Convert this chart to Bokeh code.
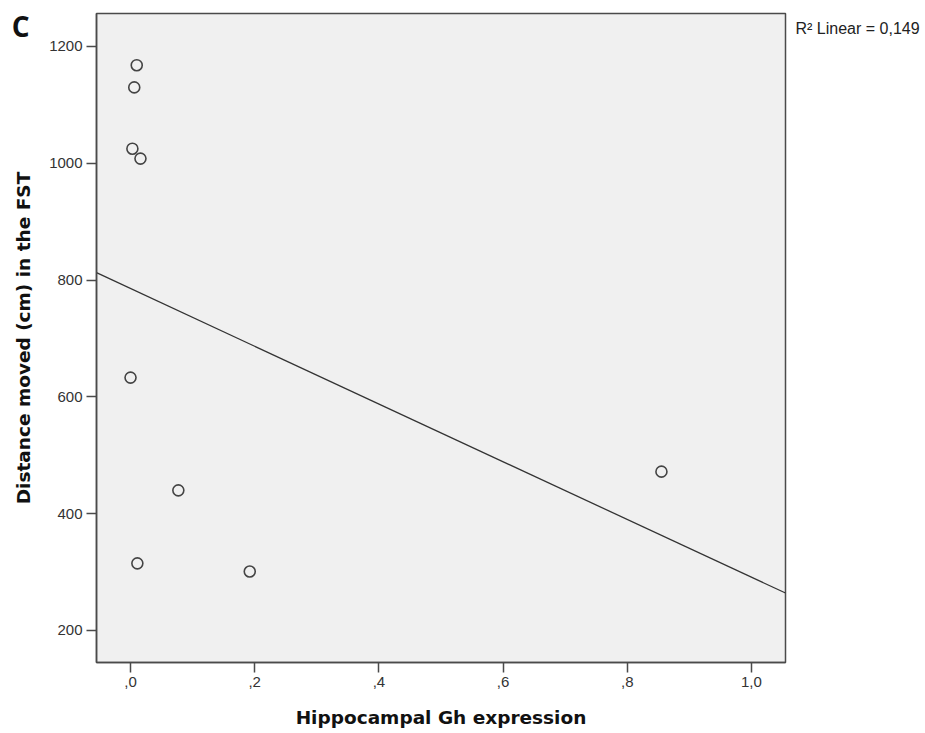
import numpy as np
from bokeh.plotting import figure
from bokeh.models import Range1d, FixedTicker, LinearAxis
from bokeh.embed import file_html
from bokeh.resources import INLINE

# Data
gh_expression = [0.010, 0.006, 0.003, 0.016, 0.000, 0.077, 0.011, 0.192, 0.855]
distance_moved = [1168, 1130, 1025, 1008, 633, 440, 315, 301, 472]

x_ticks = [0.0, 0.2, 0.4, 0.6, 0.8, 1.0]
x_tick_labels = [",0", ",2", ",4", ",6", ",8", "1,0"]
y_ticks = [200, 400, 600, 800, 1000, 1200]
y_tick_labels = ["200", "400", "600", "800", "1000", "1200"]

r2_text = "R\u00b2 Linear = 0,149"
panel_letter = "C"

x0, x1 = -0.0548, 1.0548
y0, y1 = 145.2, 1256.5

p = figure(width=925, height=733, output_backend="svg", toolbar_location=None,
           x_range=Range1d(x0, x1), y_range=Range1d(y0, y1),
           min_border_left=96, min_border_right=140, min_border_top=13, min_border_bottom=71)

p.background_fill_color = "#f0f0f0"
p.border_fill_color = "white"
p.outline_line_color = "#4a4a4a"
p.outline_line_width = 1.5
p.grid.visible = False

# regression fit
slope, intercept = np.polyfit(gh_expression, distance_moved, 1)
xs = [x0, x1]
ys = [intercept + slope * x for x in xs]
p.line(xs, ys, line_color="#333333", line_width=1.3)

p.scatter(gh_expression, distance_moved, marker="circle", size=11,
          fill_color=None, line_color="#444444", line_width=1.6)

for ax in (p.xaxis[0], p.yaxis[0]):
    ax.axis_line_color = "#4a4a4a"
    ax.axis_line_width = 1.5
    ax.major_tick_line_color = "#4a4a4a"
    ax.major_tick_line_width = 1.5
    ax.major_tick_in = 0
    ax.major_tick_out = 10
    ax.minor_tick_line_color = None
    ax.major_label_text_font = "Liberation Sans"
    ax.major_label_text_font_size = "15px"
    ax.major_label_text_color = "#333333"
    ax.axis_label_text_font = "DejaVu Sans"
    ax.axis_label_text_font_style = "bold"
    ax.axis_label_text_font_size = "18.5px"
    ax.axis_label_text_color = "#111111"

p.xaxis.ticker = FixedTicker(ticks=x_ticks)
p.xaxis.major_label_overrides = dict(zip(x_ticks, x_tick_labels))
p.yaxis.ticker = FixedTicker(ticks=y_ticks)
p.yaxis.major_label_overrides = dict(zip(y_ticks, y_tick_labels))
p.xaxis.axis_label = "Hippocampal Gh expression"
p.yaxis.axis_label = "Distance moved (cm) in the FST"
p.xaxis.major_label_standoff = 4
p.yaxis.major_label_standoff = 4
p.xaxis.axis_label_standoff = 17
p.yaxis.axis_label_standoff = 12

# R² legend text on the right side (as a tick label of a bare axis)
r2_pos = y1 - 0.0235 * (y1 - y0)
r_ax = LinearAxis(ticker=FixedTicker(ticks=[r2_pos]),
                  major_label_overrides={r2_pos: r2_text},
                  axis_line_color=None, major_tick_line_color=None, minor_tick_line_color=None,
                  major_tick_in=0, major_tick_out=0, major_label_standoff=10,
                  major_label_text_font="Liberation Sans", major_label_text_font_size="16px",
                  major_label_text_color="#222222")
p.add_layout(r_ax, "right")

# panel letter on the far left (as a tick label of a bare axis)
c_pos = y1 - 0.02 * (y1 - y0)
c_ax = LinearAxis(ticker=FixedTicker(ticks=[c_pos]),
                  major_label_overrides={c_pos: panel_letter},
                  axis_line_color=None, major_tick_line_color=None, minor_tick_line_color=None,
                  major_tick_in=0, major_tick_out=0, major_label_standoff=-19,
                  major_label_text_font="Open Sans", major_label_text_font_style="bold",
                  major_label_text_font_size="28px", major_label_text_color="#111111")
p.add_layout(c_ax, "left")

open("out.html", "w").write(file_html(p, INLINE))
